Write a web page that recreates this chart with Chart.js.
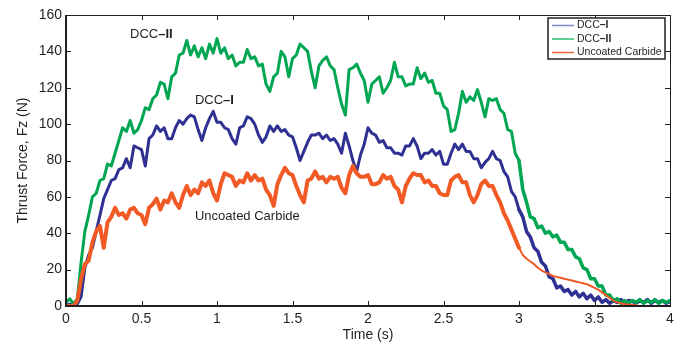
<!DOCTYPE html>
<html>
<head>
<meta charset="utf-8">
<script src="https://cdn.jsdelivr.net/npm/chart.js@4.4.1/dist/chart.umd.min.js"></script>
<style>
  html, body { margin: 0; background: #fff; }
  #wrap { width: 685px; height: 350px; }
</style>
</head>
<body>
<div id="wrap"><canvas id="c"></canvas></div>
<script>
/* Thrust force vs time for three drill coatings. */

// ---------- data ----------
const timeS = [
  0, 0.025, 0.05, 0.075, 0.1, 0.125, 0.15, 0.175, 0.2, 0.225, 0.25, 0.275, 0.3, 0.325, 0.35, 0.375, 0.4, 0.425, 0.45, 0.475,
  0.5, 0.525, 0.55, 0.575, 0.6, 0.625, 0.65, 0.675, 0.7, 0.725, 0.75, 0.775, 0.8, 0.825, 0.85, 0.875, 0.9, 0.925, 0.95, 0.975,
  1, 1.025, 1.05, 1.075, 1.1, 1.125, 1.15, 1.175, 1.2, 1.225, 1.25, 1.275, 1.3, 1.325, 1.35, 1.375, 1.4, 1.425, 1.45, 1.475,
  1.5, 1.525, 1.55, 1.575, 1.6, 1.625, 1.65, 1.675, 1.7, 1.725, 1.75, 1.775, 1.8, 1.825, 1.85, 1.875, 1.9, 1.925, 1.95, 1.975,
  2, 2.025, 2.05, 2.075, 2.1, 2.125, 2.15, 2.175, 2.2, 2.225, 2.25, 2.275, 2.3, 2.325, 2.35, 2.375, 2.4, 2.425, 2.45, 2.475,
  2.5, 2.525, 2.55, 2.575, 2.6, 2.625, 2.65, 2.675, 2.7, 2.725, 2.75, 2.775, 2.8, 2.825, 2.85, 2.875, 2.9, 2.925, 2.95, 2.975,
  3, 3.025, 3.05, 3.075, 3.1, 3.125, 3.15, 3.175, 3.2, 3.225, 3.25, 3.275, 3.3, 3.325, 3.35, 3.375, 3.4, 3.425, 3.45, 3.475,
  3.5, 3.525, 3.55, 3.575, 3.6, 3.625, 3.65, 3.675, 3.7, 3.725, 3.75, 3.775, 3.8, 3.825, 3.85, 3.875, 3.9, 3.925, 3.95, 3.975,
  4
];

const dcc1 = [
  0.5, 1, 0.5, 1, 5, 21, 28, 32, 41, 50, 59, 64, 69, 70, 75, 76, 81, 76, 88, 87,
  86, 77, 92, 94, 99, 96, 98, 92, 92, 98, 102, 100, 103, 105, 104, 97, 91, 98, 103, 107,
  101, 101, 98, 97, 92, 89, 98, 99, 104, 103, 100, 94, 90, 93, 99, 96, 99, 96, 97, 94,
  93, 87, 80, 85, 90, 94, 94, 95, 92, 94, 91, 92, 89, 84, 95, 88, 80, 74, 83, 89,
  98, 95, 94, 90, 91, 87, 87, 84, 84, 83, 88, 88, 92, 88, 81, 84, 84, 86, 83, 85,
  78, 78, 84, 89, 86, 89, 85, 85, 81, 81, 76, 79, 81, 85, 81, 80, 74, 71, 63, 60,
  53, 49, 41, 38, 32, 30, 24, 22, 16, 15, 10, 11, 8, 9, 6, 8, 5, 7, 4, 6,
  3, 5, 2, 3.5, 1.5, 3, 2, 3.5, 1.5, 3, 2.5, 1.5, 3, 2, 3.5, 1.5, 3, 2, 3, 1.5,
  2.5
];

const dcc2 = [
  2, 4, 1, 4, 24, 41, 50, 60, 62, 69, 70, 78, 77, 84, 91, 98, 96, 102, 95, 97,
  102, 109, 108, 114, 116, 123, 122, 114, 126, 128, 138, 139, 146, 138, 143, 137, 142, 136, 144, 139,
  147, 139, 142, 136, 138, 132, 134, 134, 141, 136, 137, 132, 133, 122, 118, 126, 128, 140, 137, 126,
  136, 138, 144, 142, 140, 129, 120, 132, 135, 137, 132, 130, 120, 111, 105, 130, 131, 133, 128, 124,
  112, 122, 124, 126, 117, 120, 124, 134, 126, 126, 121, 122, 122, 131, 125, 128, 123, 124, 117, 117,
  110, 108, 96, 97, 106, 118, 112, 115, 113, 119, 112, 104, 114, 113, 114, 108, 106, 97, 96, 84,
  80, 64, 57, 49, 48, 43, 44, 40, 41, 38, 39, 35, 35, 31, 31, 27, 26, 21, 20, 15,
  15, 11, 11, 6, 6, 3, 4, 1.5, 3, 1.5, 3, 2, 3.5, 1.5, 3, 2, 3.5, 1.5, 3, 2,
  3
];

const uncoated = [
  0, 0, 0, 3, 15, 23, 25, 35, 41, 44, 32, 46, 49, 54, 50, 51, 48, 53, 54, 51,
  50, 45, 54, 56, 59, 53, 58, 57, 62, 57, 54, 61, 66, 61, 64, 62, 68, 66, 69, 62,
  58, 67, 73, 72, 71, 66, 69, 68, 73, 69, 72, 69, 70, 64, 61, 55, 67, 72, 76, 73,
  72, 66, 61, 57, 69, 70, 74, 70, 71, 68, 71, 70, 71, 65, 62, 72, 77, 73, 71, 71,
  72, 67, 67, 68, 72, 70, 71, 66, 64, 57, 66, 70, 73, 72, 72, 68, 69, 66, 66, 62,
  61, 61, 69, 71, 72, 68, 68, 61, 57, 61, 67, 69, 66, 66, 61, 57, 51, 47, 42, 37,
  32, 28, 26, 24.5, 23, 21, 19.5, 18.5, 17.5, 16.5, 16, 15.5, 15, 14.5, 14, 13.5, 13, 12.5, 12, 11,
  10, 9, 7.5, 6, 4.5, 3, 2, 1.5, 1, 0.8, 0.6, 0.5, null, null, null, null, null, null, null, null,
  null
];

const seriesNames = ["DCC\u2013I", "DCC\u2013II", "Uncoated Carbide"];

// ---------- style ----------
const INK = "#231f20";
const COL = { blue: "#2e3192", green: "#00a651", red: "#f15a24" };
const FONT = "Arial, 'Liberation Sans', Helvetica, sans-serif";
const TICK = 5;

// in-plot annotations, placed in data units
const notes = [
  { x: 0.424, y: 149.5, base: "DCC", bold: "\u2013II" },
  { x: 0.854, y: 113, base: "DCC", bold: "\u2013I" },
  { x: 0.854, y: 49.5, base: "Uncoated Carbide", bold: "" },
];

const pts = vals => timeS.map((t, i) => ({ x: t, y: vals[i] }));

const framePlugin = {
  id: "frame",
  afterDatasetsDraw(chart) {
    const { ctx, chartArea: a, scales: { x, y } } = chart;
    ctx.save();
    ctx.strokeStyle = INK;

    // ticks on all four sides, pointing inward
    ctx.lineWidth = 1;
    ctx.beginPath();
    x.ticks.forEach(t => {
      const px = Math.round(x.getPixelForValue(t.value)) + 0.5;
      ctx.moveTo(px, a.bottom); ctx.lineTo(px, a.bottom - TICK);
      ctx.moveTo(px, a.top); ctx.lineTo(px, a.top + TICK);
    });
    y.ticks.forEach(t => {
      const py = Math.round(y.getPixelForValue(t.value)) + 0.5;
      ctx.moveTo(a.left, py); ctx.lineTo(a.left + TICK, py);
      ctx.moveTo(a.right, py); ctx.lineTo(a.right - TICK, py);
    });
    ctx.stroke();

    ctx.strokeRect(a.left + 0.5, a.top + 0.5, a.right - a.left, a.bottom - a.top);
    ctx.lineWidth = 2;
    ctx.beginPath();
    ctx.moveTo(a.left, a.top); ctx.lineTo(a.left, a.bottom); ctx.lineTo(a.right + 1, a.bottom);
    ctx.stroke();

    // curve labels
    ctx.fillStyle = INK;
    ctx.textBaseline = "middle";
    ctx.textAlign = "left";
    notes.forEach(n => {
      const px = x.getPixelForValue(n.x), py = y.getPixelForValue(n.y);
      ctx.font = "13px " + FONT;
      ctx.fillText(n.base, px, py);
      if (n.bold) {
        const w = ctx.measureText(n.base).width;
        ctx.font = "bold 13px " + FONT;
        ctx.fillText(n.bold, px + w, py);
      }
    });

    // legend box (top right, inside the axes)
    const L = { left: 548, top: 18, w: 117, h: 41 };
    ctx.fillStyle = "#fff";
    ctx.fillRect(L.left, L.top, L.w, L.h);
    ctx.lineWidth = 1.5;
    ctx.strokeStyle = INK;
    ctx.strokeRect(L.left, L.top, L.w, L.h);
    const legendCols = ["#7f86c8", "#2dbd6e", "#f0603a"];
    const legendBold = ["\u2013I", "\u2013II", ""];
    const legendBase = ["DCC", "DCC", "Uncoated Carbide"];
    [25.5, 39, 52.5].forEach((ly, i) => {
      ctx.strokeStyle = legendCols[i];
      ctx.lineWidth = 1.5;
      ctx.beginPath(); ctx.moveTo(552, ly); ctx.lineTo(574, ly); ctx.stroke();
      ctx.fillStyle = INK;
      ctx.font = "10.5px " + FONT;
      ctx.fillText(legendBase[i], 577, ly);
      if (legendBold[i]) {
        const w = ctx.measureText(legendBase[i]).width;
        ctx.font = "bold 10.5px " + FONT;
        ctx.fillText(legendBold[i], 577 + w, ly);
      }
    });
    ctx.restore();
  }
};

// the recorded signals are noisy, so the traces read as thick bands;
// the uncoated trace thins out once the drill exits (t > 3 s)
const line = (label, data, color, order, width, tailWidth) => ({
  label, data: pts(data), borderColor: color, backgroundColor: color,
  borderWidth: width, pointRadius: 0, tension: 0, order, spanGaps: false,
  borderJoinStyle: "round", borderCapStyle: "round",
  segment: { borderWidth: c => (c.p0.parsed.x >= 3.0 ? tailWidth : width) },
});

new Chart(document.getElementById("c"), {
  type: "line",
  data: {
    datasets: [
      line(seriesNames[2], uncoated, COL.red, 0, 4, 2),
      line(seriesNames[1], dcc2, COL.green, 1, 3, 3.5),
      line(seriesNames[0], dcc1, COL.blue, 2, 3, 3.5),
    ],
  },
  options: {
    responsive: true,
    maintainAspectRatio: false,
    animation: false,
    layout: { padding: { left: 0, top: 15, right: 15, bottom: 0 } },
    plugins: { legend: { display: false }, tooltip: { enabled: false } },
    scales: {
      x: {
        type: "linear", min: 0, max: 4,
        grid: { display: false, drawTicks: false },
        border: { display: false },
        ticks: {
          stepSize: 0.5, color: INK, font: { family: FONT, size: 14 }, padding: 5, maxRotation: 0,
          callback: v => String(Math.round(v * 10) / 10),
        },
        title: { display: true, text: "Time (s)", color: INK, font: { family: FONT, size: 14 }, padding: { top: 0, bottom: 6 } },
        afterFit: s => { s.height = 44; },
      },
      y: {
        min: 0, max: 160,
        grid: { display: false, drawTicks: false },
        border: { display: false },
        ticks: { stepSize: 20, color: INK, font: { family: FONT, size: 14 }, padding: 4 },
        title: { display: true, text: "Thrust Force, Fz (N)", color: INK, font: { family: FONT, size: 14 }, padding: { top: 15, bottom: 0 } },
        afterFit: s => { s.width = 66; },
      },
    },
  },
  plugins: [framePlugin],
});
</script>
</body>
</html>
